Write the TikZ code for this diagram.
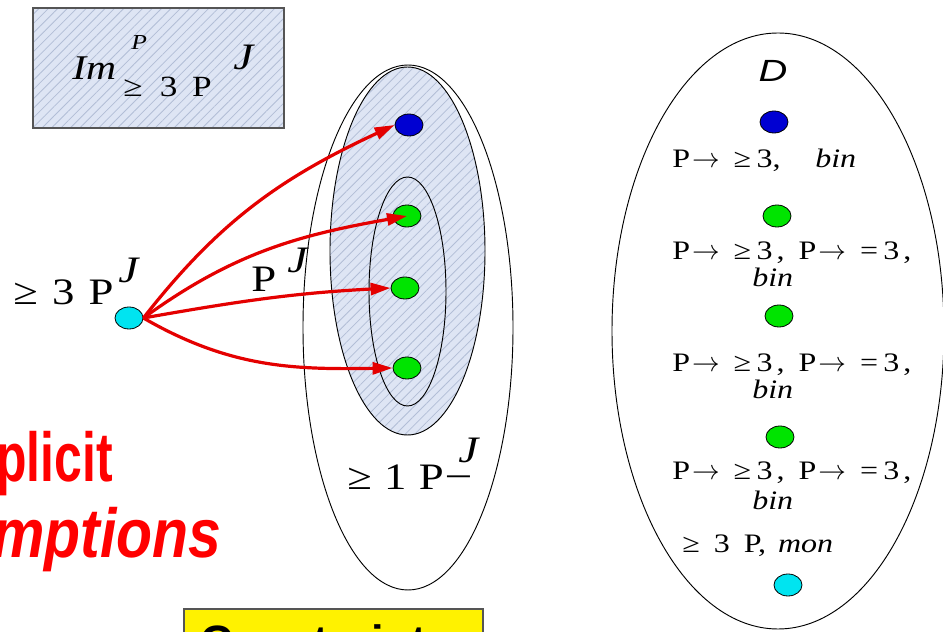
\documentclass[tikz,border=0pt]{standalone}
\usepackage{fontspec}
\setmainfont[FakeStretch=1.2]{Liberation Serif}
\setsansfont{Liberation Sans}
\usepackage{graphicx}
\usetikzlibrary{shapes.geometric,arrows.meta,patterns.meta}
\definecolor{hatchbg}{RGB}{222,229,244}
\definecolor{hatchln}{RGB}{178,190,214}
\definecolor{dotblue}{RGB}{0,0,210}
\definecolor{dotgreen}{RGB}{0,228,0}
\definecolor{dotcyan}{RGB}{0,228,240}
\definecolor{arrowred}{RGB}{228,0,0}
\definecolor{framegray}{RGB}{85,85,85}
\newcommand\lblsize{\fontsize{28}{30}\selectfont}
\newcommand\dsize{\fontsize{20}{20}\selectfont}
\newcommand\toarr{\hspace{1.5pt}$\rightarrow$}
\newcommand\gapw{\hspace{10.5pt}}
\newcommand\gapn{\hspace{4pt}}

\begin{document}
\begin{tikzpicture}[x=0.75pt,y=0.75pt,
  txt/.style={inner sep=0pt, anchor=base west},
  hatched/.style={preaction={fill=hatchbg}, pattern={Lines[angle=45,distance=5pt,line width=0.6pt]}, pattern color=hatchln},
  region/.style={draw, ellipse, inner sep=0pt, line width=0.7pt},
  blob/.style={draw, ellipse, minimum width=21pt, minimum height=16.5pt, inner sep=0pt, line width=0.6pt},
  redarrow/.style={draw=arrowred, line width=2.4pt, -{Triangle[length=15pt,width=9pt]}}]
  \useasboundingbox (0,0) rectangle (943,632);
  \clip (0,0) rectangle (943,632);

  \node[hatched, draw=framegray, line width=1.4pt, anchor=north west, minimum width=188.25pt, minimum height=90pt] (imbox) at (32,625) {};
  \node[txt, font=\fontsize{26}{28}\selectfont\itshape] (imtxt) at (72,552) {Im};
  \node[txt, font=\fontsize{16}{18}\selectfont\itshape] (imsup) at (131,582) {P};
  \node[txt, font=\fontsize{22}{24}\selectfont] (imsub) at (123,535) {≥\hspace{13pt}3\hspace{11pt}P};
  \node[txt, font=\fontsize{28}{28}\selectfont\itshape] (imj) at (233,562) {J};

  \node[region, minimum width=157.5pt, minimum height=393.75pt] (outer) at (408,304.5) {};
  \node[region, hatched, minimum width=116.25pt, minimum height=276pt] (image) at (407.5,381) {};
  \node[region, minimum width=57.75pt, minimum height=171.75pt] (inner) at (407.5,340.5) {};

  \node[blob, fill=dotcyan] (src) at (129,314) {};
  \node[txt, font=\lblsize] (srclbl) at (13,327) {≥\hspace{0.38em}3\hspace{0.38em}P};
  \node[txt, font=\lblsize\itshape] (srcj) at (118,349) {J};
  \node[txt, font=\lblsize] (plbl) at (251,340) {P};
  \node[txt, font=\lblsize\itshape] (pj) at (287,359) {J};

  \node[blob, fill=dotblue] (b1) at (409,507) {};
  \node[blob, fill=dotgreen] (g1) at (407,416) {};
  \node[blob, fill=dotgreen] (g2) at (405,344) {};
  \node[blob, fill=dotgreen] (g3) at (407,264) {};

  \draw[redarrow] (src.east) to[out=52,in=205] (b1.west);
  \draw[redarrow] (src.east) to[out=36,in=190] (g1.center);
  \draw[redarrow] (src.east) to[out=10,in=183] (g2.west);
  \draw[redarrow] (src.east) to[out=-30,in=181] (g3.west);

  \node[txt, font=\lblsize] (onelbl) at (347,142) {≥\hspace{0.33em}1\hspace{0.33em}P};
  \node[txt, font=\lblsize] (onedash) at (447,146) {–};
  \node[txt, font=\lblsize\itshape] (onej) at (458,169) {J};

  \node[txt, anchor=base east, font=\fontsize{52}{54}\selectfont\sffamily\bfseries, text=red] (impl) at (113,150) {\scalebox{0.72}[1]{plicit}};
  \node[txt, anchor=base east, font=\fontsize{52}{54}\selectfont\sffamily\bfseries\itshape, text=red] (assm) at (222,74) {\scalebox{0.85}[1]{mptions}};

  \node[draw=framegray, line width=1.2pt, fill=yellow, anchor=north west, minimum width=224.25pt, minimum height=40pt, inner sep=0pt] (cons) at (183,24) {};
  \node[txt, font=\fontsize{34}{36}\selectfont\sffamily\bfseries] (constxt) at (200,-26) {Constraints:};

  \node[region, minimum width=249pt, minimum height=447pt] (dset) at (778,301) {};
  \node[inner sep=0pt, font=\fontsize{23}{24}\selectfont\sffamily\itshape] (dlbl) at (773,561) {\scalebox{1.3}[1]{D}};
  \node[blob, fill=dotblue] (d1) at (774,510) {};
  \node[txt, font=\dsize] (d1a) at (672,464) {P\toarr\gapw≥\gapn3,\hspace{26pt}\textit{bin}};
  \node[blob, fill=dotgreen] (d2) at (777,416) {};
  \node[txt, font=\dsize] (d2a) at (672,372) {P\toarr\gapw≥\gapn3\hspace{3pt},\gapw P\toarr\gapw=\gapn3\hspace{3pt},};
  \node[txt, font=\dsize\itshape] (d2b) at (752,345) {bin};
  \node[blob, fill=dotgreen] (d3) at (779,316) {};
  \node[txt, font=\dsize] (d3a) at (672,260) {P\toarr\gapw≥\gapn3\hspace{3pt},\gapw P\toarr\gapw=\gapn3\hspace{3pt},};
  \node[txt, font=\dsize\itshape] (d3b) at (752,233) {bin};
  \node[blob, fill=dotgreen] (d4) at (780,195) {};
  \node[txt, font=\dsize] (d4a) at (672,152) {P\toarr\gapw≥\gapn3\hspace{3pt},\gapw P\toarr\gapw=\gapn3\hspace{3pt},};
  \node[txt, font=\dsize\itshape] (d4b) at (752,122) {bin};
  \node[txt, font=\dsize] (d5a) at (682,79) {≥\gapw3\gapw P,\hspace{9pt}\textit{mon}};
  \node[blob, fill=dotcyan] (d5) at (788,47) {};
\end{tikzpicture}
\end{document}
